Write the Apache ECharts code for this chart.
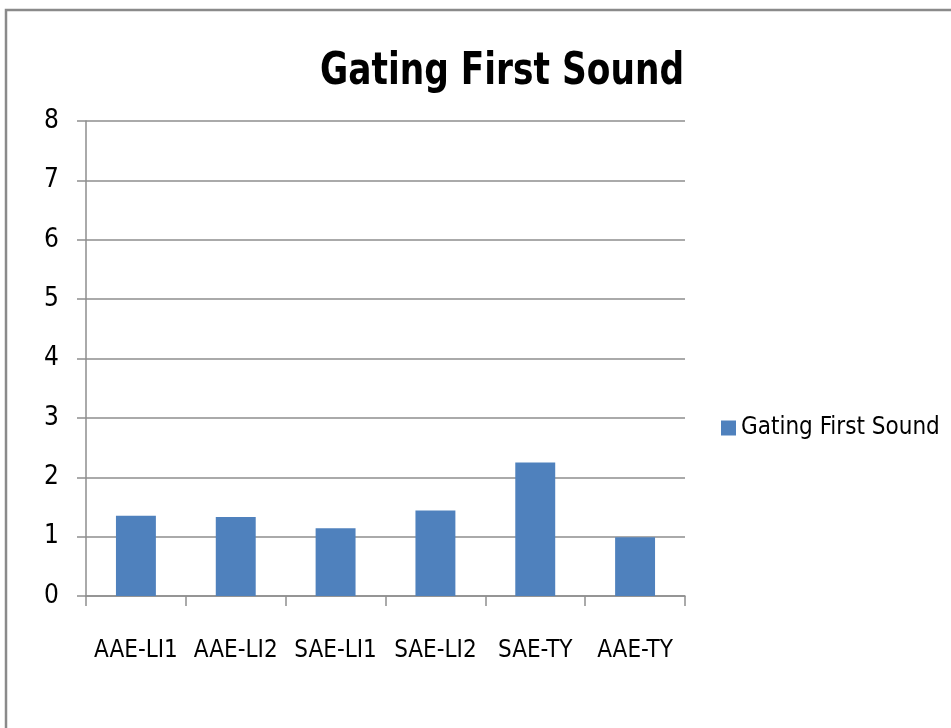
<!DOCTYPE html>
<html>
<head>
<meta charset="utf-8">
<script src="https://cdn.jsdelivr.net/npm/echarts@6/dist/echarts.min.js"></script>
<style>
  html, body { margin: 0; padding: 0; background: #fff; }
  #chart { width: 951px; height: 728px; }
</style>
</head>
<body>
<div id="chart"></div>
<script>
// Groups along the horizontal axis
const categories = ['AAE-LI1', 'AAE-LI2', 'SAE-LI1', 'SAE-LI2', 'SAE-TY', 'AAE-TY'];
// Mean gating value for the first sound, per group
const gatingFirstSound = [1.35, 1.33, 1.14, 1.44, 2.25, 0.99];
// Value axis ticks
const yTicks = [0, 1, 2, 3, 4, 5, 6, 7, 8];

const FONT = '"Liberation Sans Narrow", "DejaVu Sans Condensed", "Noto Sans", sans-serif';
const GRAY = '#8e8e8e';
const TITLE = 'Gating First Sound';

const chart = echarts.init(document.getElementById('chart'));
chart.setOption({
  animation: false,
  backgroundColor: '#fff',
  legend: {
    left: 716,
    top: 411,
    itemWidth: 15,
    itemHeight: 15,
    itemGap: 8,
    icon: 'rect',
    textStyle: { fontFamily: FONT, fontSize: 24, color: '#000' }
  },
  grid: { left: 86, right: 266, top: 121, bottom: 132, containLabel: false },
  xAxis: {
    type: 'category',
    data: categories,
    axisLine: { lineStyle: { color: GRAY, width: 1.5 } },
    axisTick: { show: true, length: 10, lineStyle: { color: GRAY, width: 1.5 } },
    axisLabel: { fontFamily: FONT, fontSize: 24, color: '#000', margin: 43, interval: 0 },
    splitLine: { show: false }
  },
  yAxis: {
    type: 'value',
    min: yTicks[0],
    max: yTicks[yTicks.length - 1],
    interval: yTicks[1] - yTicks[0],
    axisLine: { show: true, lineStyle: { color: GRAY, width: 1.5 } },
    axisTick: { show: true, length: 9, lineStyle: { color: GRAY, width: 1.5 } },
    axisLabel: { fontFamily: FONT, fontSize: 26, color: '#000', margin: 27 },
    splitLine: { show: true, lineStyle: { color: GRAY, width: 1.5 } }
  },
  series: [{
    name: TITLE,
    type: 'bar',
    data: gatingFirstSound,
    barCategoryGap: '60%',
    itemStyle: { color: '#4f81bd' }
  }],
  graphic: [{
    type: 'rect',
    shape: { x: 6, y: 10, width: 980, height: 760 },
    style: { fill: 'none', stroke: '#8a8a8a', lineWidth: 2.5 },
    silent: true
  }, {
    // chart title, slightly condensed
    type: 'text',
    x: 502,
    y: 72,
    scaleX: 0.85,
    style: {
      text: TITLE,
      x: 0,
      y: 0,
      align: 'center',
      verticalAlign: 'middle',
      fontFamily: FONT,
      fontSize: 45,
      fontWeight: 'bold',
      fill: '#000'
    },
    silent: true
  }]
});
</script>
</body>
</html>
